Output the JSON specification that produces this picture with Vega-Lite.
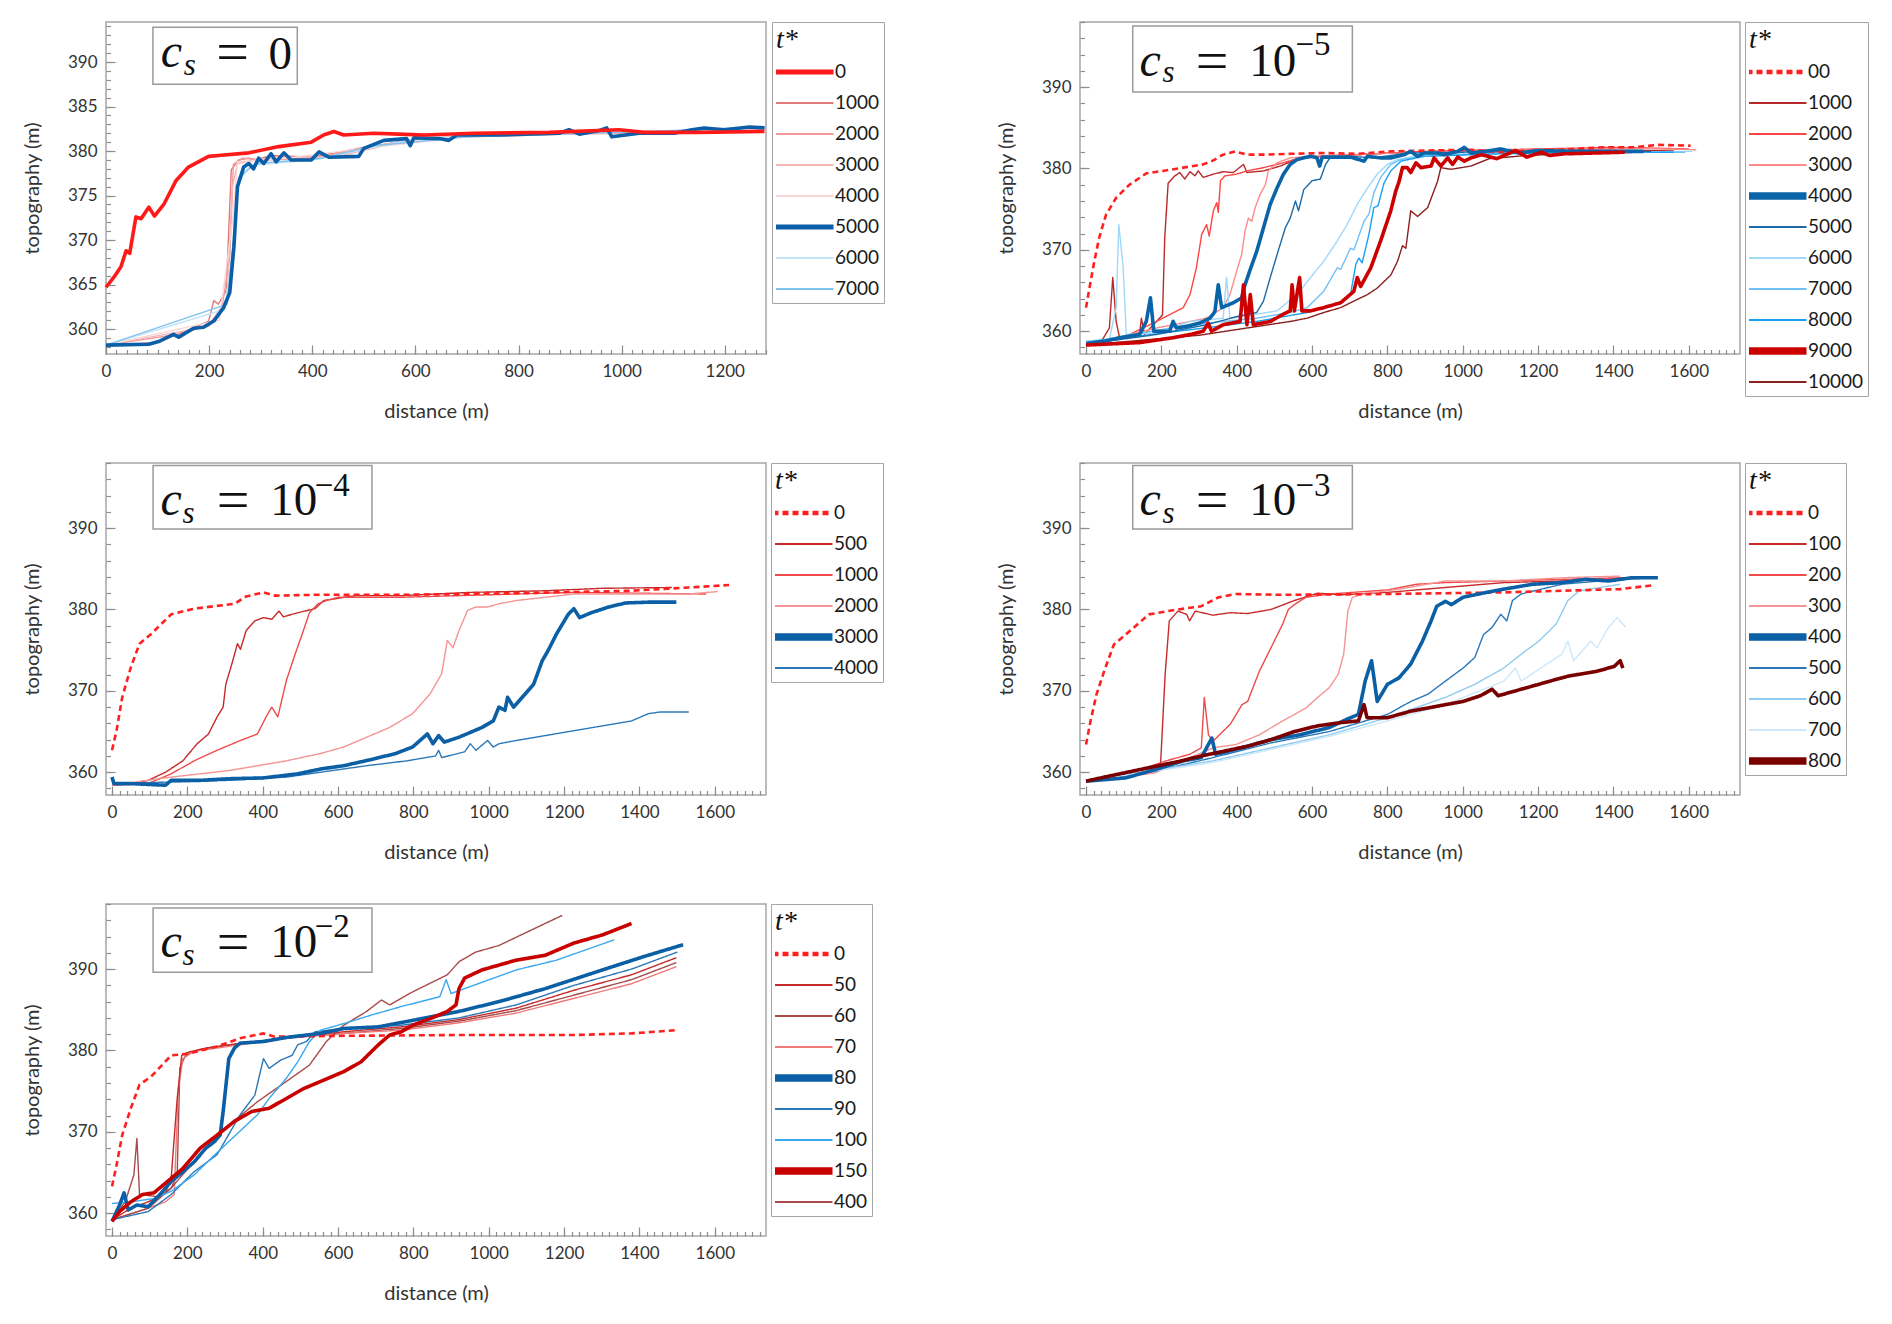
{
  "$schema": "https://vega.github.io/schema/vega-lite/v6.json",
  "background": "white",
  "padding": {"left": 21, "top": 20, "right": 5, "bottom": 5},
  "columns": 2,
  "spacing": {"row": 109, "column": 314},
  "bounds": "flush",
  "resolve": {
    "scale": {"x": "independent", "y": "independent", "color": "independent", "strokeDash": "independent"}
  },
  "datasets": {
    "p1": [
      {"t":"1000","x":0,"y":358.2},{"t":"1000","x":100,"y":358.5},{"t":"1000","x":160,"y":359.9},{"t":"1000","x":199,"y":360.9},{"t":"1000","x":209,"y":363.2},{"t":"1000","x":218,"y":362.8},{"t":"1000","x":233,"y":364.3},{"t":"1000","x":243,"y":377.9},{"t":"1000","x":257,"y":379.0},{"t":"1000","x":277,"y":379.2},{"t":"1000","x":291,"y":379.0},{"t":"1000","x":320,"y":379.5},{"t":"1000","x":400,"y":379.3},{"t":"1000","x":500,"y":380.4},{"t":"1000","x":600,"y":381.3},{"t":"1000","x":700,"y":381.7},{"t":"1000","x":800,"y":381.9},{"t":"1000","x":1000,"y":382.0},{"t":"1000","x":1200,"y":382.3},{"t":"1000","x":1278,"y":382.5},
      {"t":"2000","x":0,"y":358.2},{"t":"2000","x":150,"y":359.5},{"t":"2000","x":200,"y":360.5},{"t":"2000","x":225,"y":362.5},{"t":"2000","x":240,"y":368},{"t":"2000","x":247,"y":378.5},{"t":"2000","x":265,"y":379.2},{"t":"2000","x":300,"y":379.0},{"t":"2000","x":400,"y":379.2},{"t":"2000","x":500,"y":380.3},{"t":"2000","x":600,"y":381.4},{"t":"2000","x":800,"y":381.9},{"t":"2000","x":1000,"y":382.0},{"t":"2000","x":1278,"y":382.5},
      {"t":"3000","x":0,"y":358.2},{"t":"3000","x":200,"y":360.3},{"t":"3000","x":235,"y":363.5},{"t":"3000","x":245,"y":376},{"t":"3000","x":255,"y":378.6},{"t":"3000","x":300,"y":379.1},{"t":"3000","x":450,"y":379.4},{"t":"3000","x":600,"y":381.4},{"t":"3000","x":900,"y":381.9},{"t":"3000","x":1278,"y":382.5},
      {"t":"4000","x":0,"y":358.2},{"t":"4000","x":220,"y":361},{"t":"4000","x":245,"y":372},{"t":"4000","x":255,"y":378.8},{"t":"4000","x":350,"y":379.2},{"t":"4000","x":500,"y":380.3},{"t":"4000","x":700,"y":381.6},{"t":"4000","x":1278,"y":382.6},
      {"t":"6000","x":0,"y":358.2},{"t":"6000","x":230,"y":362.2},{"t":"6000","x":248,"y":370},{"t":"6000","x":256,"y":376.5},{"t":"6000","x":280,"y":378.4},{"t":"6000","x":400,"y":379.0},{"t":"6000","x":500,"y":380.2},{"t":"6000","x":600,"y":381.4},{"t":"6000","x":900,"y":382.1},{"t":"6000","x":1100,"y":382.2},{"t":"6000","x":1278,"y":382.7},
      {"t":"7000","x":0,"y":358.2},{"t":"7000","x":235,"y":362.8},{"t":"7000","x":249,"y":371},{"t":"7000","x":257,"y":377},{"t":"7000","x":290,"y":378.6},{"t":"7000","x":420,"y":379.2},{"t":"7000","x":520,"y":380.6},{"t":"7000","x":700,"y":381.6},{"t":"7000","x":1000,"y":382.1},{"t":"7000","x":1278,"y":382.7},
      {"t":"5000","x":0,"y":358.2},{"t":"5000","x":83,"y":358.3},{"t":"5000","x":102,"y":358.6},{"t":"5000","x":131,"y":359.4},{"t":"5000","x":141,"y":359.1},{"t":"5000","x":170,"y":360.1},{"t":"5000","x":189,"y":360.2},{"t":"5000","x":209,"y":360.9},{"t":"5000","x":228,"y":362.4},{"t":"5000","x":240,"y":364.1},{"t":"5000","x":248,"y":369.2},{"t":"5000","x":255,"y":376},{"t":"5000","x":267,"y":378.2},{"t":"5000","x":277,"y":378.6},{"t":"5000","x":286,"y":378},{"t":"5000","x":296,"y":379.2},{"t":"5000","x":306,"y":378.6},{"t":"5000","x":320,"y":379.7},{"t":"5000","x":330,"y":378.8},{"t":"5000","x":345,"y":379.8},{"t":"5000","x":359,"y":379},{"t":"5000","x":398,"y":379},{"t":"5000","x":413,"y":379.9},{"t":"5000","x":433,"y":379.3},{"t":"5000","x":490,"y":379.4},{"t":"5000","x":500,"y":380.3},{"t":"5000","x":539,"y":381.2},{"t":"5000","x":583,"y":381.4},{"t":"5000","x":590,"y":380.6},{"t":"5000","x":597,"y":381.5},{"t":"5000","x":646,"y":381.4},{"t":"5000","x":665,"y":381.2},{"t":"5000","x":680,"y":381.8},{"t":"5000","x":762,"y":381.8},{"t":"5000","x":879,"y":382},{"t":"5000","x":898,"y":382.4},{"t":"5000","x":918,"y":381.9},{"t":"5000","x":956,"y":382.3},{"t":"5000","x":971,"y":382.6},{"t":"5000","x":981,"y":381.6},{"t":"5000","x":1034,"y":382},{"t":"5000","x":1102,"y":382},{"t":"5000","x":1136,"y":382.4},{"t":"5000","x":1160,"y":382.6},{"t":"5000","x":1199,"y":382.4},{"t":"5000","x":1248,"y":382.7},{"t":"5000","x":1277,"y":382.6},
      {"t":"0","x":0,"y":364.7},{"t":"0","x":15,"y":365.8},{"t":"0","x":29,"y":367},{"t":"0","x":39,"y":368.8},{"t":"0","x":46,"y":368.5},{"t":"0","x":58,"y":372.6},{"t":"0","x":68,"y":372.4},{"t":"0","x":83,"y":373.7},{"t":"0","x":94,"y":372.7},{"t":"0","x":112,"y":374},{"t":"0","x":136,"y":376.7},{"t":"0","x":160,"y":378.2},{"t":"0","x":199,"y":379.4},{"t":"0","x":218,"y":379.5},{"t":"0","x":277,"y":379.8},{"t":"0","x":335,"y":380.5},{"t":"0","x":398,"y":381},{"t":"0","x":422,"y":381.8},{"t":"0","x":442,"y":382.2},{"t":"0","x":461,"y":381.8},{"t":"0","x":519,"y":382},{"t":"0","x":568,"y":381.9},{"t":"0","x":617,"y":381.8},{"t":"0","x":713,"y":382},{"t":"0","x":859,"y":382.1},{"t":"0","x":995,"y":382.4},{"t":"0","x":1044,"y":382.1},{"t":"0","x":1150,"y":382.1},{"t":"0","x":1277,"y":382.2}
    ],
    "p2": [
      {"t":"10000","x":0,"y":358.3},{"t":"10000","x":300,"y":359.5},{"t":"10000","x":542,"y":361.2},{"t":"10000","x":587,"y":361.6},{"t":"10000","x":631,"y":362.3},{"t":"10000","x":676,"y":362.9},{"t":"10000","x":720,"y":363.9},{"t":"10000","x":747,"y":364.5},{"t":"10000","x":773,"y":365.3},{"t":"10000","x":809,"y":366.9},{"t":"10000","x":827,"y":368.6},{"t":"10000","x":840,"y":370.5},{"t":"10000","x":849,"y":370.2},{"t":"10000","x":862,"y":374.8},{"t":"10000","x":880,"y":374.1},{"t":"10000","x":907,"y":375.2},{"t":"10000","x":933,"y":378.4},{"t":"10000","x":942,"y":380.1},{"t":"10000","x":969,"y":379.9},{"t":"10000","x":996,"y":380.1},{"t":"10000","x":1022,"y":380.3},{"t":"10000","x":1070,"y":381.2},{"t":"10000","x":1170,"y":381.6},{"t":"10000","x":1270,"y":381.8},{"t":"10000","x":1480,"y":382.0},
      {"t":"1000","x":0,"y":358.3},{"t":"1000","x":44,"y":359.0},{"t":"1000","x":62,"y":360.4},{"t":"1000","x":71,"y":366.6},{"t":"1000","x":80,"y":361.2},{"t":"1000","x":89,"y":359.2},{"t":"1000","x":142,"y":359.6},{"t":"1000","x":147,"y":361.6},{"t":"1000","x":155,"y":359.6},{"t":"1000","x":187,"y":361.2},{"t":"1000","x":203,"y":362.0},{"t":"1000","x":209,"y":371.5},{"t":"1000","x":218,"y":378.2},{"t":"1000","x":236,"y":379.1},{"t":"1000","x":249,"y":379.5},{"t":"1000","x":262,"y":378.7},{"t":"1000","x":276,"y":379.6},{"t":"1000","x":289,"y":379.1},{"t":"1000","x":298,"y":379.7},{"t":"1000","x":311,"y":378.9},{"t":"1000","x":338,"y":379.3},{"t":"1000","x":364,"y":379.6},{"t":"1000","x":391,"y":379.5},{"t":"1000","x":418,"y":380.5},{"t":"1000","x":427,"y":379.5},{"t":"1000","x":471,"y":379.7},{"t":"1000","x":516,"y":380.3},{"t":"1000","x":551,"y":381.0},{"t":"1000","x":587,"y":381.4},{"t":"1000","x":720,"y":381.7},{"t":"1000","x":898,"y":382.1},{"t":"1000","x":1100,"y":382.2},{"t":"1000","x":1300,"y":382.3},{"t":"1000","x":1450,"y":382.2},{"t":"1000","x":1560,"y":382.2},
      {"t":"2000","x":0,"y":358.3},{"t":"2000","x":98,"y":359.2},{"t":"2000","x":187,"y":361.2},{"t":"2000","x":258,"y":362.9},{"t":"2000","x":276,"y":364.5},{"t":"2000","x":293,"y":367.8},{"t":"2000","x":307,"y":371.9},{"t":"2000","x":320,"y":373.1},{"t":"2000","x":327,"y":371.7},{"t":"2000","x":338,"y":374.8},{"t":"2000","x":347,"y":375.8},{"t":"2000","x":351,"y":374.6},{"t":"2000","x":357,"y":378.5},{"t":"2000","x":369,"y":379.1},{"t":"2000","x":400,"y":379.3},{"t":"2000","x":427,"y":379.7},{"t":"2000","x":471,"y":380.1},{"t":"2000","x":524,"y":380.7},{"t":"2000","x":560,"y":381.2},{"t":"2000","x":631,"y":381.5},{"t":"2000","x":809,"y":381.9},{"t":"2000","x":1000,"y":382.2},{"t":"2000","x":1200,"y":382.4},{"t":"2000","x":1400,"y":382.6},{"t":"2000","x":1500,"y":382.5},{"t":"2000","x":1600,"y":382.4},
      {"t":"3000","x":0,"y":358.3},{"t":"3000","x":187,"y":360.4},{"t":"3000","x":320,"y":361.6},{"t":"3000","x":364,"y":362.9},{"t":"3000","x":382,"y":364.5},{"t":"3000","x":400,"y":367.4},{"t":"3000","x":413,"y":369.4},{"t":"3000","x":422,"y":372.3},{"t":"3000","x":431,"y":373.9},{"t":"3000","x":440,"y":373.5},{"t":"3000","x":449,"y":375.2},{"t":"3000","x":462,"y":376.8},{"t":"3000","x":476,"y":378.0},{"t":"3000","x":484,"y":379.7},{"t":"3000","x":507,"y":380.7},{"t":"3000","x":542,"y":381.3},{"t":"3000","x":631,"y":381.6},{"t":"3000","x":900,"y":382.0},{"t":"3000","x":1200,"y":382.3},{"t":"3000","x":1450,"y":382.5},{"t":"3000","x":1620,"y":382.3},
      {"t":"6000","x":0,"y":358.8},{"t":"6000","x":62,"y":359.0},{"t":"6000","x":80,"y":362.9},{"t":"6000","x":87,"y":373.1},{"t":"6000","x":98,"y":368.2},{"t":"6000","x":107,"y":359.6},{"t":"6000","x":187,"y":359.8},{"t":"6000","x":276,"y":361.2},{"t":"6000","x":364,"y":361.6},{"t":"6000","x":373,"y":366.6},{"t":"6000","x":382,"y":361.6},{"t":"6000","x":453,"y":362.1},{"t":"6000","x":507,"y":362.5},{"t":"6000","x":560,"y":364.5},{"t":"6000","x":596,"y":366.6},{"t":"6000","x":631,"y":368.6},{"t":"6000","x":667,"y":371.1},{"t":"6000","x":693,"y":373.1},{"t":"6000","x":720,"y":375.6},{"t":"6000","x":747,"y":377.6},{"t":"6000","x":773,"y":379.3},{"t":"6000","x":800,"y":380.5},{"t":"6000","x":827,"y":381.1},{"t":"6000","x":898,"y":381.7},{"t":"6000","x":1100,"y":381.9},{"t":"6000","x":1300,"y":382.0},{"t":"6000","x":1610,"y":382.1},
      {"t":"7000","x":0,"y":358.6},{"t":"7000","x":276,"y":360.8},{"t":"7000","x":453,"y":361.6},{"t":"7000","x":542,"y":362.3},{"t":"7000","x":587,"y":362.9},{"t":"7000","x":631,"y":364.9},{"t":"7000","x":667,"y":367.8},{"t":"7000","x":676,"y":367.6},{"t":"7000","x":702,"y":370.2},{"t":"7000","x":711,"y":370.0},{"t":"7000","x":738,"y":373.5},{"t":"7000","x":751,"y":374.4},{"t":"7000","x":764,"y":377.0},{"t":"7000","x":782,"y":378.9},{"t":"7000","x":809,"y":380.5},{"t":"7000","x":836,"y":381.1},{"t":"7000","x":898,"y":381.5},{"t":"7000","x":1100,"y":381.9},{"t":"7000","x":1300,"y":382.0},{"t":"7000","x":1590,"y":382.0},
      {"t":"8000","x":0,"y":358.6},{"t":"8000","x":453,"y":361.2},{"t":"8000","x":587,"y":362.3},{"t":"8000","x":676,"y":363.5},{"t":"8000","x":702,"y":364.5},{"t":"8000","x":716,"y":368.2},{"t":"8000","x":724,"y":369.0},{"t":"8000","x":733,"y":368.4},{"t":"8000","x":751,"y":371.9},{"t":"8000","x":764,"y":375.2},{"t":"8000","x":775,"y":375.4},{"t":"8000","x":791,"y":378.2},{"t":"8000","x":809,"y":379.7},{"t":"8000","x":836,"y":380.9},{"t":"8000","x":898,"y":381.5},{"t":"8000","x":1100,"y":381.8},{"t":"8000","x":1300,"y":382.0},{"t":"8000","x":1560,"y":382.0},
      {"t":"5000","x":0,"y":358.4},{"t":"5000","x":187,"y":359.6},{"t":"5000","x":320,"y":360.8},{"t":"5000","x":409,"y":361.9},{"t":"5000","x":453,"y":362.3},{"t":"5000","x":471,"y":363.7},{"t":"5000","x":489,"y":366.6},{"t":"5000","x":507,"y":369.4},{"t":"5000","x":529,"y":372.7},{"t":"5000","x":542,"y":373.9},{"t":"5000","x":556,"y":376.0},{"t":"5000","x":564,"y":374.8},{"t":"5000","x":578,"y":377.4},{"t":"5000","x":600,"y":378.5},{"t":"5000","x":622,"y":378.7},{"t":"5000","x":636,"y":380.5},{"t":"5000","x":649,"y":381.4},{"t":"5000","x":702,"y":381.5},{"t":"5000","x":764,"y":381.3},{"t":"5000","x":853,"y":381.9},{"t":"5000","x":1000,"y":382.0},{"t":"5000","x":1200,"y":382.1},{"t":"5000","x":1400,"y":382.1},{"t":"5000","x":1500,"y":382.1},
      {"t":"00","x":0,"y":362.9},{"t":"00","x":9,"y":365.3},{"t":"00","x":22,"y":368.6},{"t":"00","x":35,"y":371.5},{"t":"00","x":53,"y":374.3},{"t":"00","x":80,"y":376.4},{"t":"00","x":115,"y":378.0},{"t":"00","x":160,"y":379.4},{"t":"00","x":204,"y":379.7},{"t":"00","x":258,"y":380.1},{"t":"00","x":311,"y":380.5},{"t":"00","x":338,"y":381.0},{"t":"00","x":364,"y":381.7},{"t":"00","x":396,"y":382.1},{"t":"00","x":427,"y":381.7},{"t":"00","x":471,"y":381.7},{"t":"00","x":542,"y":381.8},{"t":"00","x":631,"y":381.9},{"t":"00","x":720,"y":381.8},{"t":"00","x":809,"y":382.1},{"t":"00","x":898,"y":382.2},{"t":"00","x":1022,"y":382.3},{"t":"00","x":1100,"y":382.0},{"t":"00","x":1200,"y":382.2},{"t":"00","x":1300,"y":382.4},{"t":"00","x":1370,"y":382.6},{"t":"00","x":1450,"y":382.6},{"t":"00","x":1520,"y":382.9},{"t":"00","x":1605,"y":382.8},
      {"t":"4000","x":0,"y":358.5},{"t":"4000","x":53,"y":358.8},{"t":"4000","x":89,"y":359.2},{"t":"4000","x":142,"y":359.6},{"t":"4000","x":160,"y":361.2},{"t":"4000","x":171,"y":364.1},{"t":"4000","x":180,"y":360.0},{"t":"4000","x":222,"y":360.0},{"t":"4000","x":231,"y":361.2},{"t":"4000","x":240,"y":360.4},{"t":"4000","x":267,"y":360.6},{"t":"4000","x":302,"y":361.0},{"t":"4000","x":329,"y":361.6},{"t":"4000","x":342,"y":362.4},{"t":"4000","x":351,"y":365.7},{"t":"4000","x":360,"y":362.9},{"t":"4000","x":391,"y":363.5},{"t":"4000","x":413,"y":364.1},{"t":"4000","x":422,"y":365.7},{"t":"4000","x":436,"y":367.6},{"t":"4000","x":453,"y":369.8},{"t":"4000","x":471,"y":372.7},{"t":"4000","x":489,"y":375.6},{"t":"4000","x":507,"y":377.6},{"t":"4000","x":524,"y":379.3},{"t":"4000","x":542,"y":380.5},{"t":"4000","x":560,"y":381.1},{"t":"4000","x":596,"y":381.5},{"t":"4000","x":613,"y":381.3},{"t":"4000","x":620,"y":380.3},{"t":"4000","x":627,"y":381.4},{"t":"4000","x":702,"y":381.4},{"t":"4000","x":738,"y":380.9},{"t":"4000","x":747,"y":381.5},{"t":"4000","x":782,"y":381.3},{"t":"4000","x":809,"y":381.3},{"t":"4000","x":845,"y":381.7},{"t":"4000","x":862,"y":382.1},{"t":"4000","x":880,"y":381.5},{"t":"4000","x":898,"y":381.9},{"t":"4000","x":933,"y":381.9},{"t":"4000","x":951,"y":381.7},{"t":"4000","x":987,"y":382.1},{"t":"4000","x":1004,"y":382.6},{"t":"4000","x":1022,"y":381.9},{"t":"4000","x":1060,"y":382.1},{"t":"4000","x":1100,"y":382.4},{"t":"4000","x":1150,"y":381.9},{"t":"4000","x":1200,"y":382.2},{"t":"4000","x":1300,"y":382.1},{"t":"4000","x":1400,"y":382.1},{"t":"4000","x":1480,"y":382.1},
      {"t":"9000","x":0,"y":358.3},{"t":"9000","x":142,"y":358.6},{"t":"9000","x":231,"y":359.2},{"t":"9000","x":276,"y":359.6},{"t":"9000","x":311,"y":360.0},{"t":"9000","x":324,"y":361.0},{"t":"9000","x":333,"y":360.0},{"t":"9000","x":364,"y":360.8},{"t":"9000","x":409,"y":361.2},{"t":"9000","x":418,"y":365.7},{"t":"9000","x":427,"y":360.8},{"t":"9000","x":436,"y":364.5},{"t":"9000","x":444,"y":360.8},{"t":"9000","x":489,"y":361.2},{"t":"9000","x":524,"y":362.1},{"t":"9000","x":542,"y":362.5},{"t":"9000","x":547,"y":365.7},{"t":"9000","x":553,"y":362.5},{"t":"9000","x":567,"y":366.6},{"t":"9000","x":573,"y":362.5},{"t":"9000","x":596,"y":362.5},{"t":"9000","x":631,"y":362.9},{"t":"9000","x":676,"y":363.5},{"t":"9000","x":711,"y":364.9},{"t":"9000","x":720,"y":366.6},{"t":"9000","x":729,"y":365.5},{"t":"9000","x":756,"y":367.8},{"t":"9000","x":782,"y":371.1},{"t":"9000","x":809,"y":374.8},{"t":"9000","x":822,"y":377.2},{"t":"9000","x":831,"y":378.4},{"t":"9000","x":840,"y":380.1},{"t":"9000","x":853,"y":380.1},{"t":"9000","x":862,"y":379.5},{"t":"9000","x":876,"y":380.7},{"t":"9000","x":889,"y":380.1},{"t":"9000","x":916,"y":380.3},{"t":"9000","x":924,"y":381.3},{"t":"9000","x":942,"y":380.3},{"t":"9000","x":960,"y":381.3},{"t":"9000","x":973,"y":380.5},{"t":"9000","x":987,"y":381.4},{"t":"9000","x":1004,"y":380.9},{"t":"9000","x":1022,"y":381.3},{"t":"9000","x":1050,"y":381.7},{"t":"9000","x":1090,"y":381.2},{"t":"9000","x":1140,"y":382.2},{"t":"9000","x":1170,"y":381.4},{"t":"9000","x":1210,"y":382.0},{"t":"9000","x":1230,"y":381.6},{"t":"9000","x":1270,"y":381.8},{"t":"9000","x":1430,"y":382.0}
    ],
    "p3": [
      {"t":"500","x":0,"y":358.4},{"t":"500","x":50,"y":358.6},{"t":"500","x":96,"y":359.0},{"t":"500","x":142,"y":360.0},{"t":"500","x":188,"y":361.4},{"t":"500","x":226,"y":363.5},{"t":"500","x":256,"y":364.7},{"t":"500","x":279,"y":366.8},{"t":"500","x":295,"y":368.0},{"t":"500","x":302,"y":370.8},{"t":"500","x":318,"y":373.3},{"t":"500","x":333,"y":375.8},{"t":"500","x":341,"y":375.1},{"t":"500","x":356,"y":377.4},{"t":"500","x":379,"y":378.6},{"t":"500","x":402,"y":379.0},{"t":"500","x":424,"y":378.8},{"t":"500","x":443,"y":379.8},{"t":"500","x":455,"y":379.1},{"t":"500","x":493,"y":379.6},{"t":"500","x":539,"y":380.1},{"t":"500","x":562,"y":381.1},{"t":"500","x":646,"y":381.7},{"t":"500","x":768,"y":381.7},{"t":"500","x":951,"y":382.1},{"t":"500","x":1150,"y":382.3},{"t":"500","x":1300,"y":382.6},{"t":"500","x":1486,"y":382.7},
      {"t":"1000","x":0,"y":358.4},{"t":"1000","x":96,"y":358.6},{"t":"1000","x":157,"y":359.8},{"t":"1000","x":218,"y":361.4},{"t":"1000","x":279,"y":362.7},{"t":"1000","x":341,"y":363.9},{"t":"1000","x":386,"y":364.7},{"t":"1000","x":409,"y":366.8},{"t":"1000","x":424,"y":368.0},{"t":"1000","x":440,"y":366.8},{"t":"1000","x":463,"y":371.3},{"t":"1000","x":486,"y":374.5},{"t":"1000","x":508,"y":377.4},{"t":"1000","x":524,"y":379.6},{"t":"1000","x":547,"y":380.7},{"t":"1000","x":569,"y":381.1},{"t":"1000","x":600,"y":381.5},{"t":"1000","x":768,"y":381.5},{"t":"1000","x":1073,"y":381.9},{"t":"1000","x":1226,"y":382.1},{"t":"1000","x":1577,"y":381.9},
      {"t":"2000","x":0,"y":358.4},{"t":"2000","x":157,"y":359.4},{"t":"2000","x":310,"y":360.2},{"t":"2000","x":463,"y":361.4},{"t":"2000","x":554,"y":362.3},{"t":"2000","x":615,"y":363.1},{"t":"2000","x":676,"y":364.3},{"t":"2000","x":737,"y":365.5},{"t":"2000","x":798,"y":367.2},{"t":"2000","x":844,"y":369.6},{"t":"2000","x":875,"y":372.1},{"t":"2000","x":890,"y":376.2},{"t":"2000","x":905,"y":375.3},{"t":"2000","x":921,"y":377.4},{"t":"2000","x":944,"y":379.9},{"t":"2000","x":966,"y":380.3},{"t":"2000","x":997,"y":380.3},{"t":"2000","x":1027,"y":380.7},{"t":"2000","x":1073,"y":381.1},{"t":"2000","x":1150,"y":381.5},{"t":"2000","x":1226,"y":381.9},{"t":"2000","x":1379,"y":381.9},{"t":"2000","x":1531,"y":381.9},{"t":"2000","x":1608,"y":382.2},
      {"t":"4000","x":0,"y":358.6},{"t":"4000","x":310,"y":359.0},{"t":"4000","x":463,"y":359.4},{"t":"4000","x":554,"y":360.0},{"t":"4000","x":676,"y":360.8},{"t":"4000","x":783,"y":361.4},{"t":"4000","x":859,"y":362.0},{"t":"4000","x":867,"y":362.7},{"t":"4000","x":875,"y":361.8},{"t":"4000","x":936,"y":362.5},{"t":"4000","x":951,"y":363.5},{"t":"4000","x":966,"y":362.7},{"t":"4000","x":997,"y":363.9},{"t":"4000","x":1012,"y":363.1},{"t":"4000","x":1027,"y":363.5},{"t":"4000","x":1073,"y":363.9},{"t":"4000","x":1226,"y":365.1},{"t":"4000","x":1379,"y":366.3},{"t":"4000","x":1424,"y":367.2},{"t":"4000","x":1455,"y":367.4},{"t":"4000","x":1531,"y":367.4},
      {"t":"0","x":0,"y":362.7},{"t":"0","x":12,"y":365.1},{"t":"0","x":27,"y":369.2},{"t":"0","x":50,"y":372.9},{"t":"0","x":73,"y":375.8},{"t":"0","x":104,"y":377.0},{"t":"0","x":157,"y":379.4},{"t":"0","x":218,"y":380.1},{"t":"0","x":325,"y":380.7},{"t":"0","x":356,"y":381.6},{"t":"0","x":402,"y":382.1},{"t":"0","x":432,"y":381.7},{"t":"0","x":539,"y":381.8},{"t":"0","x":768,"y":381.8},{"t":"0","x":1073,"y":382.0},{"t":"0","x":1379,"y":382.3},{"t":"0","x":1531,"y":382.7},{"t":"0","x":1638,"y":383.0},
      {"t":"3000","x":0,"y":359.4},{"t":"3000","x":5,"y":358.6},{"t":"3000","x":50,"y":358.6},{"t":"3000","x":142,"y":358.4},{"t":"3000","x":157,"y":359.0},{"t":"3000","x":234,"y":359.0},{"t":"3000","x":310,"y":359.2},{"t":"3000","x":402,"y":359.3},{"t":"3000","x":493,"y":359.8},{"t":"3000","x":554,"y":360.4},{"t":"3000","x":615,"y":360.8},{"t":"3000","x":692,"y":361.6},{"t":"3000","x":753,"y":362.3},{"t":"3000","x":798,"y":363.1},{"t":"3000","x":837,"y":364.7},{"t":"3000","x":852,"y":363.5},{"t":"3000","x":867,"y":364.5},{"t":"3000","x":882,"y":363.7},{"t":"3000","x":921,"y":364.3},{"t":"3000","x":982,"y":365.5},{"t":"3000","x":1012,"y":366.3},{"t":"3000","x":1027,"y":368.0},{"t":"3000","x":1043,"y":367.6},{"t":"3000","x":1050,"y":369.2},{"t":"3000","x":1066,"y":368.0},{"t":"3000","x":1119,"y":370.8},{"t":"3000","x":1142,"y":373.7},{"t":"3000","x":1157,"y":374.9},{"t":"3000","x":1180,"y":377.0},{"t":"3000","x":1211,"y":379.4},{"t":"3000","x":1226,"y":380.1},{"t":"3000","x":1241,"y":379.0},{"t":"3000","x":1272,"y":379.6},{"t":"3000","x":1318,"y":380.3},{"t":"3000","x":1363,"y":380.8},{"t":"3000","x":1424,"y":380.9},{"t":"3000","x":1498,"y":380.9}
    ],
    "p4": [
      {"t":"100","x":0,"y":358.9},{"t":"100","x":74,"y":359.5},{"t":"100","x":182,"y":360.7},{"t":"100","x":198,"y":361.1},{"t":"100","x":210,"y":372.0},{"t":"100","x":221,"y":378.6},{"t":"100","x":244,"y":379.8},{"t":"100","x":267,"y":379.4},{"t":"100","x":275,"y":378.6},{"t":"100","x":290,"y":379.8},{"t":"100","x":337,"y":379.3},{"t":"100","x":383,"y":379.6},{"t":"100","x":429,"y":379.5},{"t":"100","x":491,"y":380.0},{"t":"100","x":553,"y":381.1},{"t":"100","x":615,"y":382.0},{"t":"100","x":677,"y":381.8},{"t":"100","x":800,"y":382.1},{"t":"100","x":954,"y":382.7},{"t":"100","x":1109,"y":383.3},{"t":"100","x":1263,"y":383.5},{"t":"100","x":1418,"y":383.8},{"t":"100","x":1480,"y":383.9},
      {"t":"200","x":0,"y":358.9},{"t":"200","x":105,"y":359.7},{"t":"200","x":213,"y":361.4},{"t":"200","x":275,"y":362.2},{"t":"200","x":306,"y":363.0},{"t":"200","x":314,"y":369.2},{"t":"200","x":325,"y":364.6},{"t":"200","x":337,"y":363.8},{"t":"200","x":383,"y":365.9},{"t":"200","x":414,"y":368.3},{"t":"200","x":429,"y":368.7},{"t":"200","x":460,"y":372.4},{"t":"200","x":491,"y":375.3},{"t":"200","x":522,"y":378.2},{"t":"200","x":537,"y":380.0},{"t":"200","x":553,"y":380.6},{"t":"200","x":584,"y":381.5},{"t":"200","x":646,"y":381.9},{"t":"200","x":800,"y":382.4},{"t":"200","x":877,"y":383.1},{"t":"200","x":954,"y":383.3},{"t":"200","x":1109,"y":383.5},{"t":"200","x":1418,"y":383.9},{"t":"200","x":1480,"y":383.9},
      {"t":"300","x":0,"y":358.9},{"t":"300","x":182,"y":359.9},{"t":"300","x":337,"y":363.0},{"t":"300","x":398,"y":363.4},{"t":"300","x":460,"y":364.6},{"t":"300","x":522,"y":366.3},{"t":"300","x":584,"y":367.9},{"t":"300","x":615,"y":369.2},{"t":"300","x":646,"y":370.4},{"t":"300","x":669,"y":372.0},{"t":"300","x":684,"y":374.5},{"t":"300","x":695,"y":379.8},{"t":"300","x":707,"y":381.5},{"t":"300","x":738,"y":381.9},{"t":"300","x":831,"y":382.5},{"t":"300","x":954,"y":383.5},{"t":"300","x":1109,"y":383.5},{"t":"300","x":1263,"y":383.9},{"t":"300","x":1418,"y":384.1},
      {"t":"500","x":0,"y":358.9},{"t":"500","x":182,"y":360.1},{"t":"500","x":337,"y":361.8},{"t":"500","x":491,"y":363.6},{"t":"500","x":646,"y":365.0},{"t":"500","x":800,"y":367.1},{"t":"500","x":862,"y":368.7},{"t":"500","x":908,"y":369.6},{"t":"500","x":954,"y":371.2},{"t":"500","x":1001,"y":372.8},{"t":"500","x":1032,"y":374.1},{"t":"500","x":1055,"y":376.9},{"t":"500","x":1078,"y":377.8},{"t":"500","x":1101,"y":379.4},{"t":"500","x":1117,"y":378.6},{"t":"500","x":1132,"y":381.1},{"t":"500","x":1155,"y":381.9},{"t":"500","x":1263,"y":383.1},{"t":"500","x":1418,"y":383.7},{"t":"500","x":1510,"y":383.9},
      {"t":"600","x":0,"y":358.9},{"t":"600","x":337,"y":361.4},{"t":"600","x":646,"y":364.6},{"t":"600","x":800,"y":366.7},{"t":"600","x":954,"y":369.2},{"t":"600","x":1032,"y":370.8},{"t":"600","x":1109,"y":372.8},{"t":"600","x":1155,"y":374.5},{"t":"600","x":1202,"y":376.1},{"t":"600","x":1248,"y":378.2},{"t":"600","x":1279,"y":381.1},{"t":"600","x":1310,"y":382.3},{"t":"600","x":1418,"y":383.1},
      {"t":"700","x":0,"y":358.9},{"t":"700","x":337,"y":361.2},{"t":"700","x":646,"y":364.4},{"t":"700","x":800,"y":366.3},{"t":"700","x":954,"y":368.3},{"t":"700","x":1109,"y":371.2},{"t":"700","x":1140,"y":372.8},{"t":"700","x":1155,"y":371.2},{"t":"700","x":1263,"y":374.5},{"t":"700","x":1279,"y":376.1},{"t":"700","x":1294,"y":373.7},{"t":"700","x":1340,"y":376.1},{"t":"700","x":1356,"y":375.3},{"t":"700","x":1387,"y":377.8},{"t":"700","x":1410,"y":379.0},{"t":"700","x":1433,"y":377.8},
      {"t":"0","x":0,"y":363.4},{"t":"0","x":12,"y":366.3},{"t":"0","x":28,"y":369.6},{"t":"0","x":51,"y":372.8},{"t":"0","x":74,"y":375.7},{"t":"0","x":105,"y":376.9},{"t":"0","x":167,"y":379.4},{"t":"0","x":244,"y":380.0},{"t":"0","x":306,"y":380.4},{"t":"0","x":352,"y":381.5},{"t":"0","x":398,"y":381.9},{"t":"0","x":522,"y":381.8},{"t":"0","x":800,"y":381.9},{"t":"0","x":1109,"y":382.1},{"t":"0","x":1263,"y":382.3},{"t":"0","x":1418,"y":382.5},{"t":"0","x":1510,"y":383.0},
      {"t":"400","x":0,"y":358.9},{"t":"400","x":105,"y":359.3},{"t":"400","x":182,"y":360.3},{"t":"400","x":259,"y":361.4},{"t":"400","x":306,"y":361.8},{"t":"400","x":334,"y":364.2},{"t":"400","x":344,"y":362.2},{"t":"400","x":414,"y":363.0},{"t":"400","x":491,"y":364.0},{"t":"400","x":568,"y":364.6},{"t":"400","x":646,"y":365.5},{"t":"400","x":692,"y":366.5},{"t":"400","x":723,"y":367.1},{"t":"400","x":741,"y":371.2},{"t":"400","x":758,"y":373.7},{"t":"400","x":773,"y":368.7},{"t":"400","x":800,"y":370.8},{"t":"400","x":831,"y":371.6},{"t":"400","x":862,"y":373.3},{"t":"400","x":893,"y":376.1},{"t":"400","x":916,"y":378.6},{"t":"400","x":931,"y":380.4},{"t":"400","x":954,"y":381.0},{"t":"400","x":970,"y":380.6},{"t":"400","x":1001,"y":381.5},{"t":"400","x":1063,"y":382.1},{"t":"400","x":1109,"y":382.5},{"t":"400","x":1186,"y":383.1},{"t":"400","x":1263,"y":383.3},{"t":"400","x":1325,"y":383.7},{"t":"400","x":1387,"y":383.5},{"t":"400","x":1449,"y":383.9},{"t":"400","x":1518,"y":383.9},
      {"t":"800","x":0,"y":358.9},{"t":"800","x":59,"y":359.5},{"t":"800","x":120,"y":360.1},{"t":"800","x":182,"y":360.7},{"t":"800","x":244,"y":361.3},{"t":"800","x":306,"y":362.0},{"t":"800","x":368,"y":362.6},{"t":"800","x":429,"y":363.2},{"t":"800","x":491,"y":364.0},{"t":"800","x":553,"y":365.0},{"t":"800","x":615,"y":365.7},{"t":"800","x":677,"y":366.1},{"t":"800","x":723,"y":366.3},{"t":"800","x":738,"y":368.3},{"t":"800","x":746,"y":366.7},{"t":"800","x":800,"y":366.7},{"t":"800","x":862,"y":367.5},{"t":"800","x":954,"y":368.3},{"t":"800","x":1001,"y":368.7},{"t":"800","x":1047,"y":369.4},{"t":"800","x":1078,"y":370.2},{"t":"800","x":1094,"y":369.4},{"t":"800","x":1171,"y":370.4},{"t":"800","x":1232,"y":371.2},{"t":"800","x":1279,"y":371.8},{"t":"800","x":1356,"y":372.4},{"t":"800","x":1402,"y":373.0},{"t":"800","x":1418,"y":373.7},{"t":"800","x":1425,"y":372.8}
    ],
    "p5": [
      {"t":"60","x":0,"y":359.2},{"t":"60","x":35,"y":361.4},{"t":"60","x":58,"y":364.7},{"t":"60","x":66,"y":369.2},{"t":"60","x":73,"y":362.3},{"t":"60","x":127,"y":362.0},{"t":"60","x":157,"y":363.1},{"t":"60","x":173,"y":364.7},{"t":"60","x":180,"y":377.8},{"t":"60","x":195,"y":379.4},{"t":"60","x":218,"y":379.9},{"t":"60","x":300,"y":380.6},{"t":"60","x":400,"y":381.2},{"t":"60","x":500,"y":381.7},{"t":"60","x":615,"y":382.1},{"t":"60","x":768,"y":382.7},{"t":"60","x":921,"y":383.6},{"t":"60","x":1073,"y":384.9},{"t":"60","x":1226,"y":386.8},{"t":"60","x":1379,"y":388.7},{"t":"60","x":1498,"y":390.8},
      {"t":"70","x":0,"y":359.2},{"t":"70","x":81,"y":360.4},{"t":"70","x":142,"y":361.4},{"t":"70","x":165,"y":362.3},{"t":"70","x":176,"y":375.3},{"t":"70","x":188,"y":379.0},{"t":"70","x":218,"y":379.9},{"t":"70","x":310,"y":380.5},{"t":"70","x":463,"y":381.5},{"t":"70","x":615,"y":382.1},{"t":"70","x":768,"y":382.5},{"t":"70","x":921,"y":383.4},{"t":"70","x":1073,"y":384.6},{"t":"70","x":1226,"y":386.4},{"t":"70","x":1379,"y":388.2},{"t":"70","x":1498,"y":390.3},
      {"t":"50","x":0,"y":359.2},{"t":"50","x":50,"y":360.6},{"t":"50","x":96,"y":361.4},{"t":"50","x":142,"y":362.5},{"t":"50","x":157,"y":364.3},{"t":"50","x":173,"y":374.1},{"t":"50","x":185,"y":379.4},{"t":"50","x":203,"y":379.8},{"t":"50","x":249,"y":380.3},{"t":"50","x":310,"y":380.7},{"t":"50","x":386,"y":381.1},{"t":"50","x":493,"y":381.7},{"t":"50","x":615,"y":382.3},{"t":"50","x":768,"y":382.9},{"t":"50","x":921,"y":383.8},{"t":"50","x":1073,"y":385.2},{"t":"50","x":1226,"y":387.4},{"t":"50","x":1379,"y":389.3},{"t":"50","x":1498,"y":391.4},
      {"t":"400","x":0,"y":359.2},{"t":"400","x":96,"y":360.6},{"t":"400","x":157,"y":363.1},{"t":"400","x":234,"y":367.2},{"t":"400","x":310,"y":370.8},{"t":"400","x":386,"y":373.7},{"t":"400","x":463,"y":376.2},{"t":"400","x":524,"y":378.2},{"t":"400","x":569,"y":381.1},{"t":"400","x":615,"y":383.1},{"t":"400","x":676,"y":384.8},{"t":"400","x":715,"y":386.2},{"t":"400","x":737,"y":385.6},{"t":"400","x":798,"y":387.2},{"t":"400","x":890,"y":389.3},{"t":"400","x":921,"y":390.9},{"t":"400","x":966,"y":392.1},{"t":"400","x":1027,"y":392.9},{"t":"400","x":1104,"y":394.6},{"t":"400","x":1195,"y":396.6},
      {"t":"90","x":0,"y":359.2},{"t":"90","x":96,"y":360.2},{"t":"90","x":157,"y":362.3},{"t":"90","x":218,"y":365.1},{"t":"90","x":279,"y":367.2},{"t":"90","x":340,"y":372.1},{"t":"90","x":379,"y":374.5},{"t":"90","x":402,"y":379.0},{"t":"90","x":417,"y":377.8},{"t":"90","x":447,"y":378.8},{"t":"90","x":478,"y":379.4},{"t":"90","x":493,"y":380.7},{"t":"90","x":516,"y":381.1},{"t":"90","x":539,"y":382.3},{"t":"90","x":615,"y":382.7},{"t":"90","x":768,"y":383.1},{"t":"90","x":921,"y":384.0},{"t":"90","x":1073,"y":385.6},{"t":"90","x":1226,"y":388.0},{"t":"90","x":1379,"y":390.0},{"t":"90","x":1501,"y":392.1},
      {"t":"100","x":0,"y":361.2},{"t":"100","x":50,"y":361.4},{"t":"100","x":111,"y":361.8},{"t":"100","x":157,"y":362.7},{"t":"100","x":218,"y":364.7},{"t":"100","x":264,"y":366.8},{"t":"100","x":310,"y":368.8},{"t":"100","x":356,"y":370.8},{"t":"100","x":386,"y":372.1},{"t":"100","x":417,"y":374.1},{"t":"100","x":463,"y":376.6},{"t":"100","x":493,"y":378.6},{"t":"100","x":524,"y":381.1},{"t":"100","x":554,"y":382.5},{"t":"100","x":615,"y":383.3},{"t":"100","x":692,"y":384.4},{"t":"100","x":768,"y":385.4},{"t":"100","x":870,"y":386.6},{"t":"100","x":887,"y":388.7},{"t":"100","x":900,"y":387.0},{"t":"100","x":1073,"y":389.9},{"t":"100","x":1180,"y":391.1},{"t":"100","x":1333,"y":393.6},
      {"t":"0","x":0,"y":363.3},{"t":"0","x":12,"y":365.9},{"t":"0","x":27,"y":369.6},{"t":"0","x":50,"y":372.9},{"t":"0","x":73,"y":375.8},{"t":"0","x":104,"y":376.8},{"t":"0","x":157,"y":379.4},{"t":"0","x":203,"y":379.6},{"t":"0","x":279,"y":380.5},{"t":"0","x":340,"y":381.5},{"t":"0","x":402,"y":382.1},{"t":"0","x":432,"y":381.7},{"t":"0","x":615,"y":381.8},{"t":"0","x":921,"y":381.9},{"t":"0","x":1226,"y":381.9},{"t":"0","x":1379,"y":382.1},{"t":"0","x":1501,"y":382.5},
      {"t":"80","x":0,"y":359.0},{"t":"80","x":20,"y":361.0},{"t":"80","x":32,"y":362.5},{"t":"80","x":43,"y":360.4},{"t":"80","x":66,"y":361.0},{"t":"80","x":96,"y":360.8},{"t":"80","x":127,"y":362.3},{"t":"80","x":157,"y":363.9},{"t":"80","x":188,"y":365.1},{"t":"80","x":218,"y":366.3},{"t":"80","x":249,"y":368.0},{"t":"80","x":272,"y":368.8},{"t":"80","x":287,"y":369.6},{"t":"80","x":295,"y":372.5},{"t":"80","x":310,"y":379.0},{"t":"80","x":325,"y":380.3},{"t":"80","x":340,"y":380.9},{"t":"80","x":402,"y":381.1},{"t":"80","x":463,"y":381.6},{"t":"80","x":554,"y":382.1},{"t":"80","x":615,"y":382.7},{"t":"80","x":707,"y":382.9},{"t":"80","x":798,"y":383.7},{"t":"80","x":921,"y":384.8},{"t":"80","x":1027,"y":386.0},{"t":"80","x":1150,"y":387.6},{"t":"80","x":1302,"y":389.9},{"t":"80","x":1409,"y":391.5},{"t":"80","x":1516,"y":393.0},
      {"t":"150","x":0,"y":359.0},{"t":"150","x":20,"y":360.2},{"t":"150","x":50,"y":361.4},{"t":"150","x":81,"y":362.3},{"t":"150","x":111,"y":362.5},{"t":"150","x":142,"y":363.7},{"t":"150","x":188,"y":365.5},{"t":"150","x":234,"y":368.0},{"t":"150","x":279,"y":369.6},{"t":"150","x":325,"y":371.3},{"t":"150","x":371,"y":372.5},{"t":"150","x":417,"y":372.9},{"t":"150","x":463,"y":374.1},{"t":"150","x":508,"y":375.3},{"t":"150","x":554,"y":376.2},{"t":"150","x":615,"y":377.4},{"t":"150","x":661,"y":378.6},{"t":"150","x":707,"y":380.7},{"t":"150","x":737,"y":381.9},{"t":"150","x":768,"y":382.3},{"t":"150","x":798,"y":383.1},{"t":"150","x":844,"y":383.9},{"t":"150","x":890,"y":384.8},{"t":"150","x":913,"y":385.6},{"t":"150","x":921,"y":387.6},{"t":"150","x":936,"y":388.9},{"t":"150","x":982,"y":389.9},{"t":"150","x":1073,"y":391.1},{"t":"150","x":1150,"y":391.7},{"t":"150","x":1226,"y":393.2},{"t":"150","x":1302,"y":394.2},{"t":"150","x":1379,"y":395.6}
    ]
  },
  "concat": [
    {
      "width": 660, "height": 332,
      "data": {"name": "p1"},
      "resolve": {"axis": {"x": "independent", "y": "independent"}},
      "layer": [
        {
          "mark": {"type": "line", "strokeJoin": "round"},
          "encoding": {
            "x": {"field": "x", "type": "quantitative", "scale": {"domain": [0, 1280], "nice": false, "zero": false},
                  "axis": {"orient": "bottom", "values": [0, 200, 400, 600, 800, 1000, 1200], "format": "d", "title": "distance (m)", "offset": -9, "tickSize": 9, "labelPadding": 9, "titlePadding": 22}},
            "y": {"field": "y", "type": "quantitative", "scale": {"domain": [357.2, 394.5], "nice": false, "zero": false},
                  "axis": {"orient": "left", "values": [360, 365, 370, 375, 380, 385, 390], "format": "d", "title": "topography (m)", "offset": -9, "tickSize": 9, "labelPadding": 9, "titlePadding": 25}},
            "color": {"field": "t", "type": "ordinal", "title": "t*",
                      "scale": {"domain": ["0","1000","2000","3000","4000","5000","6000","7000"], "range": ["#ff1a1a","#e07b7b","#f39a9a","#f6b5b5","#f9d6d6","#0b5fa8","#c2e2f7","#7fc3ee"]},
                      "legend": {"symbolType": "M-2.4,0H9.6",
                                 "encode": {"symbols": {"update": {"strokeWidth": {"signal": "indexof(['0','5000'], datum.value) >= 0 ? 5 : 1.8"}}}}}},
            "strokeWidth": {"condition": {"test": "indexof(['0','5000'], datum.t) >= 0", "value": 3.6}, "value": 1.4}
          }
        },
        {
          "data": {"values": [{}]},
          "mark": {"type": "rect", "fill": "white", "stroke": "#9a9a9a", "strokeWidth": 1.5},
          "encoding": {
            "x": {"datum": 91, "type": "quantitative", "scale": {"domain": [0, 1280], "nice": false, "zero": false},
                  "axis": {"orient": "bottom", "tickCount": 64, "labels": false, "title": null, "offset": -4.5, "tickSize": 4.5}},
            "x2": {"datum": 371},
            "y": {"datum": 387.5, "type": "quantitative", "scale": {"domain": [357.2, 394.5], "nice": false, "zero": false},
                  "axis": {"orient": "left", "tickCount": 37, "labels": false, "title": null, "offset": -4.5, "tickSize": 4.5}},
            "y2": {"datum": 393.9}
          }
        },
        {"data": {"values": [{}]}, "mark": {"type": "text", "text": "c", "font": "Liberation Serif", "fontStyle": "italic", "fontSize": 48, "align": "left", "baseline": "alphabetic", "color": "#111"},
         "encoding": {"x": {"datum": 106, "type": "quantitative", "axis": null}, "y": {"datum": 389.4, "type": "quantitative", "axis": null}}},
        {"data": {"values": [{}]}, "mark": {"type": "text", "text": "s", "font": "Liberation Serif", "fontStyle": "italic", "fontSize": 31, "align": "left", "baseline": "alphabetic", "color": "#111"},
         "encoding": {"x": {"datum": 151, "type": "quantitative", "axis": null}, "y": {"datum": 388.5, "type": "quantitative", "axis": null}}},
        {"data": {"values": [{}]}, "mark": {"type": "text", "text": "=", "font": "Liberation Serif", "fontSize": 58, "align": "left", "baseline": "alphabetic", "color": "#111"},
         "encoding": {"x": {"datum": 214, "type": "quantitative", "axis": null}, "y": {"datum": 389.0, "type": "quantitative", "axis": null}}},
        {"data": {"values": [{}]}, "mark": {"type": "text", "text": "0", "font": "Liberation Serif", "fontSize": 47, "align": "left", "baseline": "alphabetic", "color": "#111"},
         "encoding": {"x": {"datum": 315, "type": "quantitative", "axis": null}, "y": {"datum": 389.2, "type": "quantitative", "axis": null}}}
      ]
    },
    {
      "width": 660, "height": 332,
      "data": {"name": "p2"},
      "resolve": {"axis": {"x": "independent", "y": "independent"}},
      "layer": [
        {
          "mark": {"type": "line", "strokeJoin": "round"},
          "encoding": {
            "x": {"field": "x", "type": "quantitative", "scale": {"domain": [-16, 1736], "nice": false, "zero": false},
                  "axis": {"orient": "bottom", "values": [0, 200, 400, 600, 800, 1000, 1200, 1400, 1600], "format": "d", "title": "distance (m)", "offset": -9, "tickSize": 9, "labelPadding": 9, "titlePadding": 22}},
            "y": {"field": "y", "type": "quantitative", "scale": {"domain": [357.2, 398], "nice": false, "zero": false},
                  "axis": {"orient": "left", "values": [360, 370, 380, 390], "format": "d", "title": "topography (m)", "offset": -9, "tickSize": 9, "labelPadding": 9, "titlePadding": 25}},
            "color": {"field": "t", "type": "ordinal", "title": "t*",
                      "scale": {"domain": ["00","1000","2000","3000","4000","5000","6000","7000","8000","9000","10000"], "range": ["#ff1f1f","#b82a2a","#ff4444","#ff8a8a","#0a64a8","#1c6aa8","#a0d8f8","#6ec2f5","#1aa0f0","#cc0000","#8b2020"]},
                      "legend": {"symbolType": "M-2.4,0H9.6",
                                 "encode": {"symbols": {"update": {
                                   "strokeWidth": {"signal": "indexof(['4000','9000'], datum.value) >= 0 ? 7.5 : datum.value == '00' ? 4.5 : 2"},
                                   "strokeDash": {"signal": "datum.value == '00' ? [14,10] : [1,0]"}}}}}},
            "strokeDash": {"field": "t", "type": "ordinal", "title": "t*",
                      "scale": {"domain": ["00","1000","2000","3000","4000","5000","6000","7000","8000","9000","10000"], "range": [[6,4],[1,0],[1,0],[1,0],[1,0],[1,0],[1,0],[1,0],[1,0],[1,0],[1,0]]}},
            "strokeWidth": {"condition": [{"test": "indexof(['4000','9000'], datum.t) >= 0", "value": 3.6}, {"test": "datum.t == '00'", "value": 2.6}], "value": 1.4}
          }
        },
        {
          "data": {"values": [{}]},
          "mark": {"type": "rect", "fill": "white", "stroke": "#9a9a9a", "strokeWidth": 1.5},
          "encoding": {
            "x": {"datum": 124, "type": "quantitative", "scale": {"domain": [-16, 1736], "nice": false, "zero": false},
                  "axis": {"orient": "bottom", "tickCount": 88, "labels": false, "title": null, "offset": -4.5, "tickSize": 4.5}},
            "x2": {"datum": 707},
            "y": {"datum": 389.4, "type": "quantitative", "scale": {"domain": [357.2, 398], "nice": false, "zero": false},
                  "axis": {"orient": "left", "tickCount": 20, "labels": false, "title": null, "offset": -4.5, "tickSize": 4.5}},
            "y2": {"datum": 397.5}
          }
        },
        {"data": {"values": [{}]}, "mark": {"type": "text", "text": "c", "font": "Liberation Serif", "fontStyle": "italic", "fontSize": 48, "align": "left", "baseline": "alphabetic", "color": "#111"},
         "encoding": {"x": {"datum": 142, "type": "quantitative", "axis": null}, "y": {"datum": 391.4, "type": "quantitative", "axis": null}}},
        {"data": {"values": [{}]}, "mark": {"type": "text", "text": "s", "font": "Liberation Serif", "fontStyle": "italic", "fontSize": 31, "align": "left", "baseline": "alphabetic", "color": "#111"},
         "encoding": {"x": {"datum": 203, "type": "quantitative", "axis": null}, "y": {"datum": 390.6, "type": "quantitative", "axis": null}}},
        {"data": {"values": [{}]}, "mark": {"type": "text", "text": "=", "font": "Liberation Serif", "fontSize": 58, "align": "left", "baseline": "alphabetic", "color": "#111"},
         "encoding": {"x": {"datum": 291, "type": "quantitative", "axis": null}, "y": {"datum": 390.9, "type": "quantitative", "axis": null}}},
        {"data": {"values": [{}]}, "mark": {"type": "text", "text": "10", "font": "Liberation Serif", "fontSize": 47, "align": "left", "baseline": "alphabetic", "color": "#111"},
         "encoding": {"x": {"datum": 433, "type": "quantitative", "axis": null}, "y": {"datum": 391.4, "type": "quantitative", "axis": null}}},
        {"data": {"values": [{}]}, "mark": {"type": "text", "text": "−5", "font": "Liberation Serif", "fontSize": 33, "align": "left", "baseline": "alphabetic", "color": "#111"},
         "encoding": {"x": {"datum": 556, "type": "quantitative", "axis": null}, "y": {"datum": 393.9, "type": "quantitative", "axis": null}}}
      ]
    },
    {
      "width": 660, "height": 332,
      "data": {"name": "p3"},
      "resolve": {"axis": {"x": "independent", "y": "independent"}},
      "layer": [
        {
          "mark": {"type": "line", "strokeJoin": "round"},
          "encoding": {
            "x": {"field": "x", "type": "quantitative", "scale": {"domain": [-16, 1736], "nice": false, "zero": false},
                  "axis": {"orient": "bottom", "values": [0, 200, 400, 600, 800, 1000, 1200, 1400, 1600], "format": "d", "title": "distance (m)", "offset": -9, "tickSize": 9, "labelPadding": 9, "titlePadding": 22}},
            "y": {"field": "y", "type": "quantitative", "scale": {"domain": [357.2, 398], "nice": false, "zero": false},
                  "axis": {"orient": "left", "values": [360, 370, 380, 390], "format": "d", "title": "topography (m)", "offset": -9, "tickSize": 9, "labelPadding": 9, "titlePadding": 25}},
            "color": {"field": "t", "type": "ordinal", "title": "t*",
                      "scale": {"domain": ["0","500","1000","2000","3000","4000"], "range": ["#ff1f1f","#c62a2a","#f04a4a","#f59494","#0b5fa5","#2a78b8"]},
                      "legend": {"symbolType": "M-2.4,0H9.6",
                                 "encode": {"symbols": {"update": {
                                   "strokeWidth": {"signal": "datum.value == '3000' ? 7.5 : datum.value == '0' ? 4.5 : 2"},
                                   "strokeDash": {"signal": "datum.value == '0' ? [14,10] : [1,0]"}}}}}},
            "strokeDash": {"field": "t", "type": "ordinal", "title": "t*",
                      "scale": {"domain": ["0","500","1000","2000","3000","4000"], "range": [[6,4],[1,0],[1,0],[1,0],[1,0],[1,0]]}},
            "strokeWidth": {"condition": [{"test": "datum.t == '3000'", "value": 3.6}, {"test": "datum.t == '0'", "value": 2.6}], "value": 1.4}
          }
        },
        {
          "data": {"values": [{}]},
          "mark": {"type": "rect", "fill": "white", "stroke": "#9a9a9a", "strokeWidth": 1.5},
          "encoding": {
            "x": {"datum": 109, "type": "quantitative", "scale": {"domain": [-16, 1736], "nice": false, "zero": false},
                  "axis": {"orient": "bottom", "tickCount": 88, "labels": false, "title": null, "offset": -4.5, "tickSize": 4.5}},
            "x2": {"datum": 690},
            "y": {"datum": 389.9, "type": "quantitative", "scale": {"domain": [357.2, 398], "nice": false, "zero": false},
                  "axis": {"orient": "left", "tickCount": 20, "labels": false, "title": null, "offset": -4.5, "tickSize": 4.5}},
            "y2": {"datum": 397.7}
          }
        },
        {"data": {"values": [{}]}, "mark": {"type": "text", "text": "c", "font": "Liberation Serif", "fontStyle": "italic", "fontSize": 48, "align": "left", "baseline": "alphabetic", "color": "#111"},
         "encoding": {"x": {"datum": 129, "type": "quantitative", "axis": null}, "y": {"datum": 391.6, "type": "quantitative", "axis": null}}},
        {"data": {"values": [{}]}, "mark": {"type": "text", "text": "s", "font": "Liberation Serif", "fontStyle": "italic", "fontSize": 31, "align": "left", "baseline": "alphabetic", "color": "#111"},
         "encoding": {"x": {"datum": 187, "type": "quantitative", "axis": null}, "y": {"datum": 390.6, "type": "quantitative", "axis": null}}},
        {"data": {"values": [{}]}, "mark": {"type": "text", "text": "=", "font": "Liberation Serif", "fontSize": 58, "align": "left", "baseline": "alphabetic", "color": "#111"},
         "encoding": {"x": {"datum": 278, "type": "quantitative", "axis": null}, "y": {"datum": 391.1, "type": "quantitative", "axis": null}}},
        {"data": {"values": [{}]}, "mark": {"type": "text", "text": "10", "font": "Liberation Serif", "fontSize": 47, "align": "left", "baseline": "alphabetic", "color": "#111"},
         "encoding": {"x": {"datum": 420, "type": "quantitative", "axis": null}, "y": {"datum": 391.6, "type": "quantitative", "axis": null}}},
        {"data": {"values": [{}]}, "mark": {"type": "text", "text": "−4", "font": "Liberation Serif", "fontSize": 33, "align": "left", "baseline": "alphabetic", "color": "#111"},
         "encoding": {"x": {"datum": 538, "type": "quantitative", "axis": null}, "y": {"datum": 394.0, "type": "quantitative", "axis": null}}}
      ]
    },
    {
      "width": 660, "height": 332,
      "data": {"name": "p4"},
      "resolve": {"axis": {"x": "independent", "y": "independent"}},
      "layer": [
        {
          "mark": {"type": "line", "strokeJoin": "round"},
          "encoding": {
            "x": {"field": "x", "type": "quantitative", "scale": {"domain": [-16, 1736], "nice": false, "zero": false},
                  "axis": {"orient": "bottom", "values": [0, 200, 400, 600, 800, 1000, 1200, 1400, 1600], "format": "d", "title": "distance (m)", "offset": -9, "tickSize": 9, "labelPadding": 9, "titlePadding": 22}},
            "y": {"field": "y", "type": "quantitative", "scale": {"domain": [357.2, 398], "nice": false, "zero": false},
                  "axis": {"orient": "left", "values": [360, 370, 380, 390], "format": "d", "title": "topography (m)", "offset": -9, "tickSize": 9, "labelPadding": 9, "titlePadding": 25}},
            "color": {"field": "t", "type": "ordinal", "title": "t*",
                      "scale": {"domain": ["0","100","200","300","400","500","600","700","800"], "range": ["#ff1f1f","#c62a2a","#f04a4a","#f59494","#0b5fa5","#2a78b8","#8ecbf0","#cde8fa","#7a0000"]},
                      "legend": {"symbolType": "M-2.4,0H9.6",
                                 "encode": {"symbols": {"update": {
                                   "strokeWidth": {"signal": "indexof(['400','800'], datum.value) >= 0 ? 7.5 : datum.value == '0' ? 4.5 : 2"},
                                   "strokeDash": {"signal": "datum.value == '0' ? [14,10] : [1,0]"}}}}}},
            "strokeDash": {"field": "t", "type": "ordinal", "title": "t*",
                      "scale": {"domain": ["0","100","200","300","400","500","600","700","800"], "range": [[6,4],[1,0],[1,0],[1,0],[1,0],[1,0],[1,0],[1,0],[1,0]]}},
            "strokeWidth": {"condition": [{"test": "indexof(['400','800'], datum.t) >= 0", "value": 3.6}, {"test": "datum.t == '0'", "value": 2.6}], "value": 1.4}
          }
        },
        {
          "data": {"values": [{}]},
          "mark": {"type": "rect", "fill": "white", "stroke": "#9a9a9a", "strokeWidth": 1.5},
          "encoding": {
            "x": {"datum": 124, "type": "quantitative", "scale": {"domain": [-16, 1736], "nice": false, "zero": false},
                  "axis": {"orient": "bottom", "tickCount": 88, "labels": false, "title": null, "offset": -4.5, "tickSize": 4.5}},
            "x2": {"datum": 707},
            "y": {"datum": 389.9, "type": "quantitative", "scale": {"domain": [357.2, 398], "nice": false, "zero": false},
                  "axis": {"orient": "left", "tickCount": 20, "labels": false, "title": null, "offset": -4.5, "tickSize": 4.5}},
            "y2": {"datum": 397.7}
          }
        },
        {"data": {"values": [{}]}, "mark": {"type": "text", "text": "c", "font": "Liberation Serif", "fontStyle": "italic", "fontSize": 48, "align": "left", "baseline": "alphabetic", "color": "#111"},
         "encoding": {"x": {"datum": 142, "type": "quantitative", "axis": null}, "y": {"datum": 391.6, "type": "quantitative", "axis": null}}},
        {"data": {"values": [{}]}, "mark": {"type": "text", "text": "s", "font": "Liberation Serif", "fontStyle": "italic", "fontSize": 31, "align": "left", "baseline": "alphabetic", "color": "#111"},
         "encoding": {"x": {"datum": 203, "type": "quantitative", "axis": null}, "y": {"datum": 390.6, "type": "quantitative", "axis": null}}},
        {"data": {"values": [{}]}, "mark": {"type": "text", "text": "=", "font": "Liberation Serif", "fontSize": 58, "align": "left", "baseline": "alphabetic", "color": "#111"},
         "encoding": {"x": {"datum": 291, "type": "quantitative", "axis": null}, "y": {"datum": 391.1, "type": "quantitative", "axis": null}}},
        {"data": {"values": [{}]}, "mark": {"type": "text", "text": "10", "font": "Liberation Serif", "fontSize": 47, "align": "left", "baseline": "alphabetic", "color": "#111"},
         "encoding": {"x": {"datum": 433, "type": "quantitative", "axis": null}, "y": {"datum": 391.6, "type": "quantitative", "axis": null}}},
        {"data": {"values": [{}]}, "mark": {"type": "text", "text": "−3", "font": "Liberation Serif", "fontSize": 33, "align": "left", "baseline": "alphabetic", "color": "#111"},
         "encoding": {"x": {"datum": 556, "type": "quantitative", "axis": null}, "y": {"datum": 394.0, "type": "quantitative", "axis": null}}}
      ]
    },
    {
      "width": 660, "height": 332,
      "data": {"name": "p5"},
      "resolve": {"axis": {"x": "independent", "y": "independent"}},
      "layer": [
        {
          "mark": {"type": "line", "strokeJoin": "round"},
          "encoding": {
            "x": {"field": "x", "type": "quantitative", "scale": {"domain": [-16, 1736], "nice": false, "zero": false},
                  "axis": {"orient": "bottom", "values": [0, 200, 400, 600, 800, 1000, 1200, 1400, 1600], "format": "d", "title": "distance (m)", "offset": -9, "tickSize": 9, "labelPadding": 9, "titlePadding": 22}},
            "y": {"field": "y", "type": "quantitative", "scale": {"domain": [357.2, 398], "nice": false, "zero": false},
                  "axis": {"orient": "left", "values": [360, 370, 380, 390], "format": "d", "title": "topography (m)", "offset": -9, "tickSize": 9, "labelPadding": 9, "titlePadding": 25}},
            "color": {"field": "t", "type": "ordinal", "title": "t*",
                      "scale": {"domain": ["0","50","60","70","80","90","100","150","400"], "range": ["#ff1f1f","#c62a2a","#a84a4a","#f07a7a","#0b5fa5","#2a78b8","#3aa8ee","#c80000","#a84a4a"]},
                      "legend": {"symbolType": "M-2.4,0H9.6",
                                 "encode": {"symbols": {"update": {
                                   "strokeWidth": {"signal": "indexof(['80','150'], datum.value) >= 0 ? 7.5 : datum.value == '0' ? 4.5 : 2"},
                                   "strokeDash": {"signal": "datum.value == '0' ? [14,10] : [1,0]"}}}}}},
            "strokeDash": {"field": "t", "type": "ordinal", "title": "t*",
                      "scale": {"domain": ["0","50","60","70","80","90","100","150","400"], "range": [[6,4],[1,0],[1,0],[1,0],[1,0],[1,0],[1,0],[1,0],[1,0]]}},
            "strokeWidth": {"condition": [{"test": "indexof(['80','150'], datum.t) >= 0", "value": 3.6}, {"test": "datum.t == '0'", "value": 2.6}], "value": 1.4}
          }
        },
        {
          "data": {"values": [{}]},
          "mark": {"type": "rect", "fill": "white", "stroke": "#9a9a9a", "strokeWidth": 1.5},
          "encoding": {
            "x": {"datum": 109, "type": "quantitative", "scale": {"domain": [-16, 1736], "nice": false, "zero": false},
                  "axis": {"orient": "bottom", "tickCount": 88, "labels": false, "title": null, "offset": -4.5, "tickSize": 4.5}},
            "x2": {"datum": 690},
            "y": {"datum": 389.6, "type": "quantitative", "scale": {"domain": [357.2, 398], "nice": false, "zero": false},
                  "axis": {"orient": "left", "tickCount": 20, "labels": false, "title": null, "offset": -4.5, "tickSize": 4.5}},
            "y2": {"datum": 397.5}
          }
        },
        {"data": {"values": [{}]}, "mark": {"type": "text", "text": "c", "font": "Liberation Serif", "fontStyle": "italic", "fontSize": 48, "align": "left", "baseline": "alphabetic", "color": "#111"},
         "encoding": {"x": {"datum": 129, "type": "quantitative", "axis": null}, "y": {"datum": 391.5, "type": "quantitative", "axis": null}}},
        {"data": {"values": [{}]}, "mark": {"type": "text", "text": "s", "font": "Liberation Serif", "fontStyle": "italic", "fontSize": 31, "align": "left", "baseline": "alphabetic", "color": "#111"},
         "encoding": {"x": {"datum": 187, "type": "quantitative", "axis": null}, "y": {"datum": 390.5, "type": "quantitative", "axis": null}}},
        {"data": {"values": [{}]}, "mark": {"type": "text", "text": "=", "font": "Liberation Serif", "fontSize": 58, "align": "left", "baseline": "alphabetic", "color": "#111"},
         "encoding": {"x": {"datum": 278, "type": "quantitative", "axis": null}, "y": {"datum": 391.0, "type": "quantitative", "axis": null}}},
        {"data": {"values": [{}]}, "mark": {"type": "text", "text": "10", "font": "Liberation Serif", "fontSize": 47, "align": "left", "baseline": "alphabetic", "color": "#111"},
         "encoding": {"x": {"datum": 420, "type": "quantitative", "axis": null}, "y": {"datum": 391.5, "type": "quantitative", "axis": null}}},
        {"data": {"values": [{}]}, "mark": {"type": "text", "text": "−2", "font": "Liberation Serif", "fontSize": 33, "align": "left", "baseline": "alphabetic", "color": "#111"},
         "encoding": {"x": {"datum": 538, "type": "quantitative", "axis": null}, "y": {"datum": 393.9, "type": "quantitative", "axis": null}}}
      ]
    }
  ],
  "config": {
    "view": {"stroke": "#a6a6a6", "strokeWidth": 1.5},
    "axis": {
      "grid": false, "domain": false,
      "tickColor": "#8c8c8c", "tickWidth": 1.2,
      "labelFont": "Lato", "labelFontSize": 17, "labelColor": "#333333",
      "labelFlush": false, "labelOverlap": false,
      "titleFont": "Lato", "titleFontSize": 20, "titleFontWeight": "normal", "titleColor": "#333333"
    },
    "legend": {
      "orient": "right", "offset": 5, "padding": 4,
      "strokeColor": "#a6a6a6",
      "titleFont": "Liberation Serif", "titleFontStyle": "italic", "titleFontSize": 28, "titleFontWeight": "normal", "titleColor": "#111111", "titlePadding": 8,
      "labelFont": "Lato", "labelFontSize": 19, "labelColor": "#1a1a1a", "labelOffset": 40,
      "symbolSize": 100, "rowPadding": 11, "clipHeight": 20
    }
  }
}
